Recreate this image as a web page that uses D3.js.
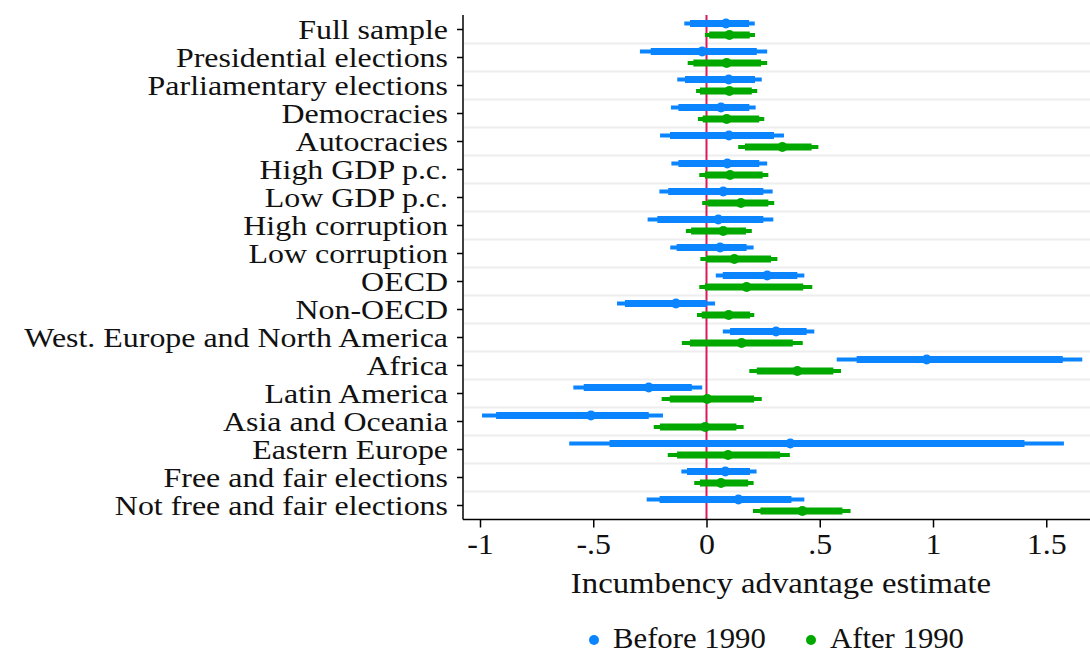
<!DOCTYPE html>
<html>
<head>
<meta charset="utf-8">
<script src="https://cdn.jsdelivr.net/npm/d3@7"></script>
<style>
  body { margin: 0; background: #fff; }
  svg text { font-family: "Liberation Serif", "Times New Roman", serif; fill: #111; }
</style>
</head>
<body>
<div id="chart"></div>
<script>
const categories = ["Full sample", "Presidential elections", "Parliamentary elections", "Democracies",
  "Autocracies", "High GDP p.c.", "Low GDP p.c.", "High corruption", "Low corruption", "OECD",
  "Non-OECD", "West. Europe and North America", "Africa", "Latin America", "Asia and Oceania",
  "Eastern Europe", "Free and fair elections", "Not free and fair elections"];

// Before 1990: point estimate, outer (thin) and inner (thick) intervals
const beforePt   = [0.086, -0.019, 0.098, 0.064, 0.099, 0.092, 0.074, 0.052, 0.060, 0.268, -0.135, 0.307, 0.972, -0.255, -0.510, 0.370, 0.083, 0.141];
const beforeLoA  = [-0.098, -0.294, -0.129, -0.157, -0.205, -0.155, -0.208, -0.260, -0.160, 0.041, -0.395, 0.072, 0.575, -0.588, -0.991, -0.606, -0.111, -0.264];
const beforeHiA  = [0.213, 0.268, 0.244, 0.217, 0.342, 0.268, 0.292, 0.295, 0.208, 0.432, 0.038, 0.476, 1.659, -0.019, -0.192, 1.578, 0.221, 0.432];
const beforeLoB  = [-0.073, -0.246, -0.095, -0.124, -0.161, -0.124, -0.169, -0.217, -0.132, 0.072, -0.360, 0.104, 0.663, -0.542, -0.929, -0.428, -0.086, -0.207];
const beforeHiB  = [0.188, 0.222, 0.214, 0.189, 0.298, 0.233, 0.251, 0.251, 0.177, 0.401, 0.001, 0.442, 1.573, -0.065, -0.255, 1.404, 0.192, 0.375];

// After 1990
const afterPt    = [0.101, 0.089, 0.101, 0.089, 0.335, 0.104, 0.152, 0.074, 0.123, 0.177, 0.098, 0.155, 0.401, 0.003, -0.006, 0.095, 0.064, 0.423];
const afterLoA   = [-0.007, -0.083, -0.046, -0.038, 0.140, -0.032, -0.019, -0.091, -0.027, -0.032, -0.042, -0.109, 0.189, -0.198, -0.233, -0.171, -0.054, 0.205];
const afterHiA   = [0.214, 0.268, 0.224, 0.255, 0.494, 0.273, 0.299, 0.200, 0.313, 0.467, 0.211, 0.425, 0.594, 0.244, 0.164, 0.368, 0.208, 0.636];
const afterLoB   = [0.012, -0.058, -0.029, -0.017, 0.170, -0.007, 0.004, -0.068, -0.002, -0.007, -0.021, -0.073, 0.222, -0.162, -0.205, -0.130, -0.029, 0.238];
const afterHiB   = [0.191, 0.241, 0.200, 0.233, 0.464, 0.248, 0.273, 0.174, 0.285, 0.427, 0.192, 0.381, 0.560, 0.210, 0.132, 0.325, 0.184, 0.600];

const xTicks = [-1, -0.5, 0, 0.5, 1, 1.5];
const xTickLabels = ["-1", "-.5", "0", ".5", "1", "1.5"];
const seriesNames = ["Before 1990", "After 1990"];

const W = 1090, H = 653;
const blue = "#0a84ff", green = "#00a800", red = "#d81b5a";
const fontSize = 28;   // stretched horizontally below for a wide latex-ish look

const svg = d3.select("#chart").append("svg").attr("width", W).attr("height", H);

const x = d3.scaleLinear().domain([0, 1]).range([706.5, 933]);
const y = d3.scaleBand().domain(categories).range([15.5, 519.5]);
const plotLeft = 463, plotRight = W, plotBottom = 519.5, plotTop = 15;

// gridlines between rows
svg.append("g")
  .selectAll("line")
  .data(categories.slice(1))
  .join("line")
  .attr("x1", plotLeft).attr("x2", plotRight)
  .attr("y1", d => y(d)).attr("y2", d => y(d))
  .attr("stroke", "#eeeeee").attr("stroke-width", 2);

// zero reference line
svg.append("line")
  .attr("x1", x(0)).attr("x2", x(0))
  .attr("y1", plotTop).attr("y2", plotBottom)
  .attr("stroke", red).attr("stroke-width", 2);

const series = [
  { color: blue, off: -6, pt: beforePt, loA: beforeLoA, hiA: beforeHiA, loB: beforeLoB, hiB: beforeHiB },
  { color: green, off: 5.5, pt: afterPt, loA: afterLoA, hiA: afterHiA, loB: afterLoB, hiB: afterHiB }
];

series.forEach(s => {
  const g = svg.append("g");
  const yc = (d, i) => y(categories[i]) + y.bandwidth() / 2 + s.off;
  g.selectAll(".ci-outer").data(categories).join("line")
    .attr("class", "ci-outer")
    .attr("x1", (d, i) => x(s.loA[i])).attr("x2", (d, i) => x(s.hiA[i]))
    .attr("y1", yc).attr("y2", yc)
    .attr("stroke", s.color).attr("stroke-width", 4);
  g.selectAll(".ci-inner").data(categories).join("line")
    .attr("class", "ci-inner")
    .attr("x1", (d, i) => x(s.loB[i])).attr("x2", (d, i) => x(s.hiB[i]))
    .attr("y1", yc).attr("y2", yc)
    .attr("stroke", s.color).attr("stroke-width", 7);
  g.selectAll("circle").data(categories).join("circle")
    .attr("cx", (d, i) => x(s.pt[i])).attr("cy", yc)
    .attr("r", 5).attr("fill", s.color);
});

// y axis
const yAxis = svg.append("g")
  .attr("transform", `translate(${plotLeft},0)`)
  .call(d3.axisLeft(y).tickSize(6).tickSizeOuter(0));
yAxis.select(".domain").attr("d", `M0,${plotTop}V${plotBottom}`).attr("stroke", "#000").attr("stroke-width", 1.5);
yAxis.selectAll(".tick line").attr("stroke", "#000").attr("stroke-width", 1.5);
yAxis.selectAll(".tick text")
  .attr("font-size", fontSize).attr("font-family", null)
  .attr("x", 0).attr("dy", "0.34em")
  .attr("transform", "translate(-15,0) scale(1.14,1)");

// x axis
const xAxis = svg.append("g")
  .attr("transform", `translate(0,${plotBottom})`)
  .call(d3.axisBottom(x).tickValues(xTicks).tickFormat((d, i) => xTickLabels[i]).tickSize(8).tickPadding(6).tickSizeOuter(0));
xAxis.select(".domain").attr("d", `M${plotLeft},0H${plotRight}`).attr("stroke", "#000").attr("stroke-width", 1.5);
xAxis.selectAll(".tick line").attr("stroke", "#000").attr("stroke-width", 1.5);
xAxis.selectAll(".tick text")
  .attr("font-size", fontSize + 1).attr("font-family", null)
  .attr("transform", "scale(1.1,1)");

// x axis title
svg.append("text")
  .attr("transform", "translate(781,593) scale(1.13,1)")
  .attr("text-anchor", "middle")
  .attr("font-size", fontSize + 1)
  .text("Incumbency advantage estimate");

// legend
const legend = svg.append("g").attr("transform", "translate(0,640)");
const legendX = [594, 811];
seriesNames.forEach((name, i) => {
  legend.append("circle").attr("cx", legendX[i]).attr("cy", 0).attr("r", 5)
    .attr("fill", i === 0 ? blue : green);
  legend.append("text")
    .attr("transform", `translate(${legendX[i] + 19},8) scale(1.06,1)`)
    .attr("font-size", fontSize + 1).text(name);
});
</script>
</body>
</html>
